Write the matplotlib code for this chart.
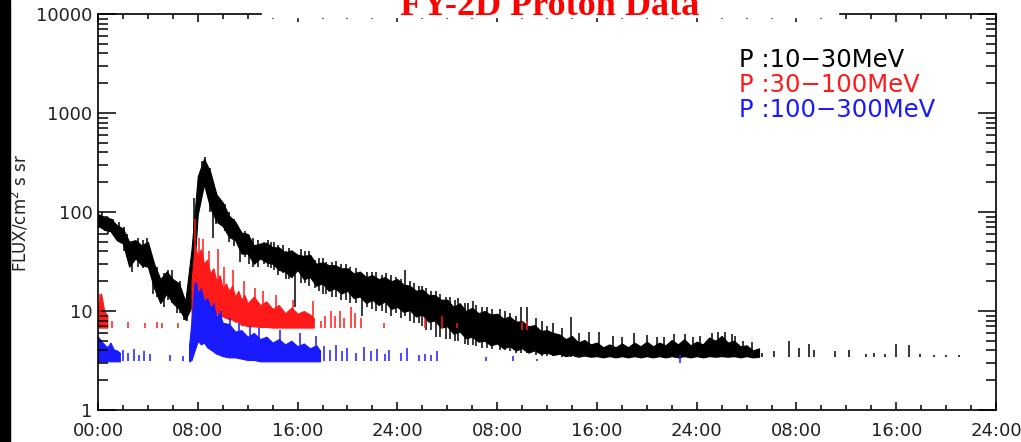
import numpy as np
import matplotlib
matplotlib.use("Agg")
import matplotlib.pyplot as plt
from matplotlib.patches import Rectangle
from matplotlib.ticker import MultipleLocator, FixedLocator, FixedFormatter

# ---- 10-30 MeV channel: half-hourly envelope (hours since start, low, high)
black_t = np.arange(0, 53.5, 0.5)
black_lo = [74, 66, 64, 52, 48, 28, 34, 29, 28, 17, 12, 15, 12, 10.5, 8.2, 11,
            95, 190, 110, 80, 72, 56, 52, 38, 38, 30, 34, 31, 30, 26, 25, 22,
            26, 21, 22, 18, 19, 16, 17, 15, 16, 13.5, 14, 12, 13, 11.5, 12.5, 10.5,
            11, 9.8, 10.2, 8.8, 9.2, 7.8, 8, 6.8, 7, 5.9, 6.2, 5.3, 5.5, 4.9,
            5.0, 4.5, 4.7, 4.2, 4.4, 4.0, 4.2, 3.8, 4.0, 3.7, 3.8,
            3.6, 3.7, 3.5, 3.6, 3.45, 3.55, 3.45, 3.5, 3.4, 3.5, 3.4, 3.5, 3.4,
            3.5, 3.4, 3.5, 3.4, 3.5, 3.4, 3.5, 3.4, 3.5, 3.4, 3.5, 3.4, 3.5,
            3.45, 3.5, 3.45, 3.5, 3.4, 3.5, 3.4, 3.45]
black_hi = [96, 88, 86, 74, 68, 50, 52, 46, 50, 30, 21, 25, 21, 19, 12.5, 42,
            230, 345, 255, 150, 125, 92, 80, 62, 60, 46, 48, 49, 44, 44, 39, 41,
            37, 36, 37, 30, 31, 29, 29, 27, 27, 24, 25, 22, 23, 21, 22, 20,
            21, 18.5, 18, 16, 16.5, 14.5, 14.5, 13, 13, 11, 12, 10, 10.8, 9.5,
            10, 9.2, 9.4, 8.4, 8.8, 7.8, 7.9, 7.0, 7.2, 6.3, 6.4,
            6.0, 5.8, 5.2, 5.6, 4.8, 5.1, 4.6, 4.8, 4.3, 4.6, 4.3, 4.7, 4.3,
            4.8, 4.4, 4.9, 4.4, 4.8, 4.5, 5.1, 4.6, 5.2, 4.5, 4.9, 4.6, 5.4,
            5.0, 5.6, 4.8, 5.0, 4.4, 4.5, 4.0, 4.2]
black_spikes = [(0.3, 68, 100), (0.8, 60, 90), (1.2, 60, 85), (1.7, 50, 80), (2.1, 40, 70),
                (2.3, 35, 60), (2.7, 25, 45), (3.2, 28, 55), (3.6, 27, 52), (3.9, 30, 55),
                (4.4, 15, 30), (4.7, 14, 28), (5.3, 11, 24), (5.6, 13, 26), (5.9, 12, 26),
                (6.3, 9.5, 18), (6.6, 9.5, 20), (6.9, 8.2, 14), (7.1, 8, 13),
                (7.7, 40, 140), (8.3, 200, 330), (8.6, 220, 360), (9.0, 100, 280),
                (9.2, 55, 170), (9.5, 75, 160), (9.7, 75, 140), (10.2, 65, 120),
                (10.5, 50, 100), (10.9, 45, 85), (11.4, 31, 60), (11.8, 35, 65),
                (12.1, 30, 58), (12.4, 28, 55), (12.8, 28, 52), (13.3, 30, 50),
                (13.6, 28, 52), (13.9, 27, 50), (14.1, 26, 50), (14.4, 23, 46),
                (14.8, 24, 46), (15.1, 21, 40), (15.3, 21, 43), (15.8, 11, 35),
                (16.3, 19, 42), (16.6, 19, 40), (16.9, 18, 40), (17.4, 17, 33),
                (17.7, 16, 34), (18.0, 15, 34), (18.3, 15, 31), (18.8, 14, 31),
                (19.1, 14, 32), (19.5, 13, 30), (19.9, 13, 30), (20.2, 12, 28),
                (20.7, 12, 27), (21.2, 8.8, 22), (21.6, 11, 25), (22.0, 10.5, 25),
                (22.3, 10, 25), (22.8, 10, 23), (23.1, 9.5, 24), (23.5, 9, 23),
                (23.9, 9.5, 22), (24.3, 8.5, 21), (24.6, 9, 26), (25.0, 8, 20),
                (25.3, 7.5, 19), (25.7, 7.5, 18), (26.0, 7, 18), (26.3, 6.5, 17),
                (26.7, 6.5, 16), (27.1, 5.5, 16), (27.4, 5.5, 15), (27.9, 5.2, 14),
                (28.2, 5.2, 14), (28.6, 5, 13), (28.9, 5, 13.5), (29.4, 4.6, 12),
                (29.7, 4.5, 12), (30.1, 4.5, 12.5), (30.3, 4.4, 11.5), (30.8, 4.2, 11),
                (31.2, 4.2, 11), (31.6, 4.1, 10.5), (32.2, 4.0, 10.5), (32.6, 4, 10),
                (33.0, 3.9, 9.5), (33.5, 3.8, 9), (33.9, 3.8, 11), (34.4, 3.8, 11),
                (35.1, 3.6, 8.5), (35.6, 3.5, 8), (36.0, 3.5, 7), (36.5, 3.5, 7.5),
                (37.2, 3.45, 6.8), (37.9, 3.45, 8.6), (38.6, 3.45, 6.0), (39.4, 3.45, 6.2),
                (40.2, 3.45, 6.2), (41.3, 3.45, 5.6), (42.0, 3.45, 5.5), (43.0, 3.45, 6.0),
                (44.0, 3.45, 5.7), (44.8, 3.45, 5.5), (45.4, 3.45, 5.4), (46.2, 3.45, 5.8),
                (47.1, 3.45, 5.9), (47.7, 3.45, 5.5), (48.3, 3.45, 5.6), (49.2, 3.45, 6.0),
                (49.7, 3.45, 6.1), (50.3, 3.45, 6.2), (50.8, 3.45, 5.9), (51.1, 3.45, 5.6),
                (51.7, 3.45, 5.0), (52.4, 3.45, 4.9),
                (53.2, 3.45, 3.8), (54.2, 3.45, 3.9), (55.4, 3.45, 5.0), (56.2, 3.45, 4.2),
                (57.0, 3.45, 4.6), (57.4, 3.45, 4.0), (59.1, 3.45, 3.9), (60.2, 3.45, 4.0),
                (61.6, 3.45, 3.7), (62.2, 3.45, 3.8), (63.1, 3.45, 3.7), (64.0, 3.45, 4.6),
                (65.0, 3.45, 4.5), (65.9, 3.45, 3.7), (67.0, 3.45, 3.6), (68.0, 3.45, 3.6),
                (69.0, 3.45, 3.6)]

# ---- 30-100 MeV channel (None splits separate data segments)
red_t = [0.0, 0.25, 0.5, 0.75, None,
         7.5, 7.75, 8.0, 8.25, 8.5, 8.75, 9.0, 9.25, 9.5, 9.75, 10.0, 10.25, 10.5,
         10.75, 11.0, 11.25, 11.5, 11.75, 12.0, 12.5, 13.0, 13.5, 14.0, 14.5,
         15.0, 15.5, 16.0, 16.5, 17.0, 17.3]
red_lo = [6.8, 6.8, 6.8, 6.8, None,
          7, 9, 14, 12, 13, 11, 11, 10, 9.4, 9, 8.8, 8.5, 8.3,
          8.2, 7.8, 7.8, 7.2, 7.2, 7, 7, 6.9, 6.9, 6.8, 6.8,
          6.8, 6.8, 6.8, 6.8, 6.8, 6.8]
red_hi = [11, 15, 10, 9, None,
          20, 45, 36, 42, 30, 33, 24, 27, 20, 23, 17, 19, 16,
          18, 14, 16, 13, 14.5, 12, 14, 11.5, 12.5, 10.5, 11.5,
          9.5, 10.8, 9.4, 10, 9.2, 8.5]
red_spikes = [(0.2, 9, 15), (7.8, 20, 85), (8.1, 30, 55), (8.4, 25, 53), (8.9, 18, 40),
              (9.6, 15, 42), (10.1, 12, 28), (10.8, 12, 26), (11.7, 10, 20),
              (12.6, 9, 17), (13.2, 9, 16), (14.3, 8, 14.5), (15.6, 8, 13), (17.2, 7, 12.5),
              (1.1, 6.8, 8), (2.4, 6.8, 7.8), (3.8, 6.8, 7.5), (4.7, 6.8, 7.8),
              (5.1, 6.8, 7.5), (6.4, 6.8, 7.5), (17.9, 6.8, 8), (18.2, 6.8, 9),
              (18.7, 6.8, 10), (19.0, 6.8, 9), (19.4, 6.8, 10), (19.7, 6.8, 8.5),
              (20.3, 6.8, 11), (20.6, 6.8, 9.5), (21.1, 6.8, 8.5), (22.9, 6.8, 7.5),
              (26.2, 6.8, 8.5), (27.6, 6.8, 9.0), (28.8, 6.8, 7.5), (34.0, 6.5, 7.8),
              (34.4, 6.5, 8.0)]

# ---- 100-300 MeV channel
blue_t = [0.0, 0.25, 0.5, 0.75, 1.0, 1.25, 1.5, 1.75, None,
          7.3, 7.5, 7.75, 8.0, 8.25, 8.5, 8.75, 9.0, 9.25, 9.5, 9.75, 10.0, 10.5,
          11.0, 11.5, 12.0, 12.5, 13.0, 13.5, 14.0, 14.5, 15.0, 15.5, 16.0, 16.5,
          17.0, 17.5, 17.8]
blue_lo = [3.1, 3.1, 3.1, 3.1, 3.1, 3.1, 3.1, 3.1, None,
           3.1, 3.2, 4, 5, 4.6, 4.8, 4.3, 4.1, 3.9, 3.7, 3.6, 3.5, 3.4,
           3.4, 3.3, 3.2, 3.2, 3.1, 3.1, 3.1, 3.1, 3.1, 3.1, 3.1, 3.1,
           3.1, 3.1, 3.1]
blue_hi = [5.5, 5.0, 4.6, 4.3, 4.8, 4.1, 4.0, 3.8, None,
           4.5, 8, 19.5, 15, 17, 12.5, 13.5, 11, 11.5, 8.8, 9.5, 7.6, 7.4,
           6.2, 6.4, 5.5, 6.0, 5.2, 5.5, 4.8, 5.2, 4.6, 5.0, 4.4, 4.7,
           4.2, 4.5, 4.0]
blue_spikes = [(7.9, 8, 19), (8.3, 6, 15), (8.8, 5, 13), (9.3, 4.5, 12), (9.9, 4, 10),
               (10.6, 3.8, 8.5), (11.3, 3.6, 7.5), (12.2, 3.5, 7), (12.9, 3.4, 6.8),
               (14.6, 3.3, 6.5), (16.2, 3.2, 6.0), (17.5, 3.1, 5.6),
               (2.0, 3.1, 4.0), (2.4, 3.1, 3.8), (2.9, 3.1, 4.1), (3.3, 3.1, 3.6),
               (3.7, 3.1, 3.9), (4.2, 3.1, 3.7), (5.8, 3.1, 3.6), (6.8, 3.1, 3.5),
               (18.1, 3.1, 4.4), (18.6, 3.1, 4.0), (19.1, 3.1, 4.5), (19.6, 3.1, 3.9),
               (20.0, 3.1, 4.2), (20.7, 3.1, 3.8), (21.3, 3.1, 4.3), (21.9, 3.1, 3.9),
               (22.4, 3.1, 4.1), (23.0, 3.1, 3.7), (23.3, 3.1, 4.0), (24.3, 3.1, 3.8),
               (24.8, 3.1, 4.2), (25.7, 3.1, 3.6), (26.2, 3.1, 3.7), (26.7, 3.1, 3.6),
               (27.2, 3.1, 3.9), (31.1, 3.1, 3.4), (33.3, 3.1, 3.5), (35.2, 3.1, 3.3),
               (46.7, 3.0, 3.6)]

tick_hours = np.arange(0, 73, 8)
tick_labels = ["00:00", "08:00", "16:00", "24:00", "08:00", "16:00",
               "24:00", "08:00", "16:00", "24:00"]
legend_labels = ["P :10\u221230MeV", "P :30\u2212100MeV", "P :100\u2212300MeV"]
colors = ["black", "#ff1a1a", "#1a1aff"]


def draw_band(ax, t, lo, hi, spikes, color):
    # None entries split the envelope into separate segments
    seg = []
    for ti, l, h in list(zip(t, lo, hi)) + [(None, None, None)]:
        if ti is None:
            if seg:
                s = np.array(seg)
                ax.fill_between(s[:, 0], s[:, 1], s[:, 2], color=color, lw=0.8,
                                edgecolor=color)
            seg = []
        else:
            seg.append((ti, l, h))
    ax.vlines([s[0] for s in spikes], [s[1] for s in spikes], [s[2] for s in spikes],
              color=color, lw=1.1)


fig = plt.figure(figsize=(10.21, 4.42), dpi=100)
ax = fig.add_axes([98 / 1021, 32 / 442, 898 / 1021, 396 / 442])

draw_band(ax, black_t, black_lo, black_hi, black_spikes, colors[0])
draw_band(ax, red_t, red_lo, red_hi, red_spikes, colors[1])
draw_band(ax, blue_t, blue_lo, blue_hi, blue_spikes, colors[2])

ax.set_yscale("log")
ax.set_ylim(1, 10000)
ax.set_xlim(0, 72)
ax.yaxis.set_major_locator(FixedLocator([1, 10, 100, 1000, 10000]))
ax.yaxis.set_major_formatter(FixedFormatter(["1", "10", "100", "1000", "10000"]))
ax.xaxis.set_major_locator(FixedLocator(tick_hours))
ax.xaxis.set_major_formatter(FixedFormatter(tick_labels))
ax.xaxis.set_minor_locator(MultipleLocator(2))

for s in ax.spines.values():
    s.set_linewidth(1.2)
ax.tick_params(axis="both", which="both", direction="in", top=True, right=True,
               width=1.1, labelsize=13, colors="black")
ax.tick_params(axis="y", which="major", length=13, pad=4)
ax.tick_params(axis="y", which="minor", length=7)
ax.tick_params(axis="x", which="major", length=6, pad=9)
ax.tick_params(axis="x", which="minor", length=3.5)
for lab in ax.get_xticklabels() + ax.get_yticklabels():
    lab.set_color("#222222")

fig.text(20 / 1021, 1 - 213 / 442, "FLUX/cm$^2$ s sr", rotation=90,
         ha="center", va="center", fontsize=12, color="#222222")

for i, (lab, c) in enumerate(zip(legend_labels, colors)):
    fig.text(739 / 1021, 1 - (60 + 25 * i) / 442, lab, color=c, fontsize=17.5,
             ha="left", va="center")

# left dark border strip and the title panel
fig.add_artist(Rectangle((0, 0), 10 / 1021, 1, transform=fig.transFigure,
                         color="black", zorder=5))
fig.add_artist(Rectangle((262 / 1021, 1 - 17 / 442), 576 / 1021, 17 / 442,
                         transform=fig.transFigure, color="white", zorder=5))
fig.text(550 / 1021, 1 - 15 / 442, "FY-2D Proton Data", color="red",
         fontsize=26, fontweight="bold", family="Liberation Serif",
         ha="center", va="baseline", zorder=6)

fig.savefig("out.png", dpi=100)
